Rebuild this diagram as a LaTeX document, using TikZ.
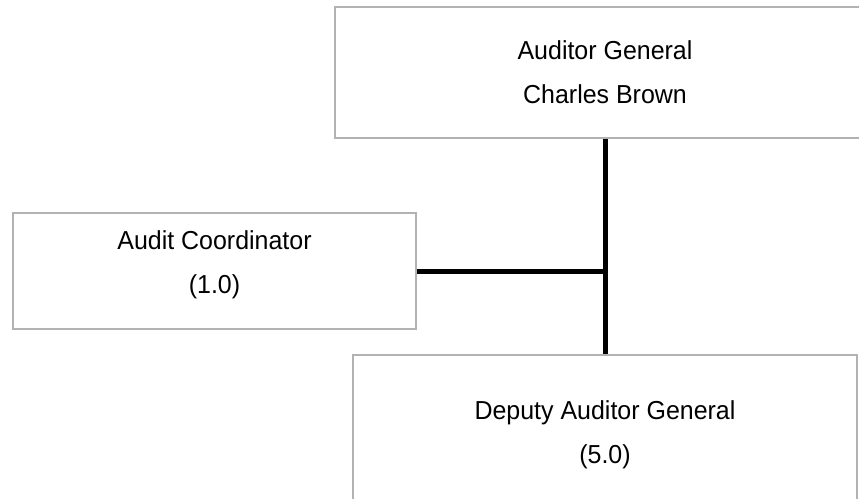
\documentclass[tikz,border=0pt]{standalone}
\usepackage{fontspec}
\setmainfont{Liberation Sans}[FakeStretch=0.96]
\usepackage{tikz}
\usetikzlibrary{positioning, calc}

\begin{document}
\begin{tikzpicture}[
  x=1pt, y=-1pt,
  box/.style={draw=black!30, line width=1.5pt, fill=white, align=center,
    font=\fontsize{26}{44}\selectfont, inner sep=0pt},
  lifted/.style={text depth=17pt},
  link/.style={line width=5pt}
]
\clip (0,0) rectangle (859,498);
\fill[white] (0,0) rectangle (859,498);

\node[box, minimum width=540pt, minimum height=131pt] (ag) at (605,72.5) {Auditor General\\Charles Brown};
\node[box, lifted, minimum width=403pt, minimum height=116pt] (coord) at (214.5,271) {Audit Coordinator\\(1.0)};
\node[box, lifted, minimum width=504pt, minimum height=172pt] (dag) at (605,441) {Deputy Auditor General\\(5.0)};

\coordinate (junc) at (coord.east -| ag.south);

\draw[link] (ag.south) -- (dag.north);
\draw[link] (coord.east) -- (junc);
\end{tikzpicture}
\end{document}
